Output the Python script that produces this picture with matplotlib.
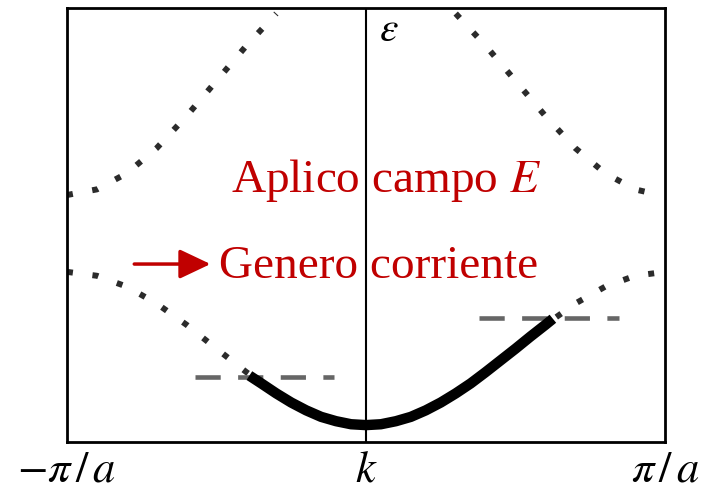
import matplotlib
matplotlib.use("Agg")
import matplotlib.pyplot as plt

plt.rcParams['font.family'] = ['Liberation Serif', 'DejaVu Serif']
plt.rcParams['mathtext.fontset'] = 'stix'

# Lower band (dotted)
k_lower = [-1.0, -0.9, -0.8, -0.7, -0.6, -0.5, -0.4, -0.3, -0.2, -0.1, 0.0,
           0.1, 0.2, 0.3, 0.4, 0.5, 0.6, 0.7, 0.8, 0.9, 1.0]
e_lower = [0.392, 0.383, 0.358, 0.319, 0.270, 0.215, 0.161, 0.112, 0.073, 0.048, 0.039,
           0.048, 0.073, 0.112, 0.161, 0.215, 0.270, 0.319, 0.358, 0.383, 0.392]

# Upper band (dotted), left and right branches
k_up_left = [-1.0, -0.9, -0.8, -0.7, -0.6, -0.5, -0.4, -0.3]
e_up_left = [0.569, 0.582, 0.619, 0.677, 0.751, 0.832, 0.913, 0.987]
k_up_right = [0.3, 0.4, 0.5, 0.6, 0.7, 0.8, 0.9, 0.95]
e_up_right = [0.987, 0.913, 0.832, 0.751, 0.677, 0.619, 0.582, 0.574]

# Occupied states (solid thick)
k_occ = [-0.39, -0.35, -0.3, -0.25, -0.2, -0.15, -0.1, -0.05, 0.0,
         0.05, 0.1, 0.15, 0.2, 0.25, 0.3, 0.35, 0.4, 0.45, 0.5, 0.55, 0.6, 0.625]
e_occ = [0.153, 0.135, 0.112, 0.091, 0.073, 0.058, 0.048, 0.041, 0.039,
         0.041, 0.048, 0.058, 0.073, 0.091, 0.112, 0.135, 0.161, 0.188, 0.215, 0.243, 0.270, 0.284]

# Dashed levels
k_dash_left = [-0.572, -0.107]
e_dash_left = [0.150, 0.150]
k_dash_right = [0.378, 0.846]
e_dash_right = [0.285, 0.285]

tick_pos = [-1, 0, 1]
tick_labels = [r'$-\pi\,/\,a$', r'$k$', r'$\pi\,/\,a$']

fig = plt.figure(figsize=(7.02, 4.95), dpi=100)
ax = fig.add_axes([0.0954, 0.107, 0.8519, 0.877])
ax.set_xlim(-1, 1)
ax.set_ylim(0, 1)

dot_color = '#2b2b2b'
for kk, ee in [(k_lower, e_lower), (k_up_left, e_up_left), (k_up_right, e_up_right)]:
    ax.plot(kk, ee, color=dot_color, lw=4.3, linestyle=(0, (1, 3.3)),
            dash_capstyle='butt', solid_joinstyle='miter')

ax.plot(k_dash_left, e_dash_left, color='#666666', lw=3.3, linestyle=(0, (5.5, 3.8)),
        dash_capstyle='butt')
ax.plot(k_dash_right, e_dash_right, color='#666666', lw=3.3, linestyle=(0, (5.5, 3.8)),
        dash_capstyle='butt')

ax.plot(k_occ, e_occ, color='black', lw=7.5, solid_capstyle='butt',
        solid_joinstyle='round', zorder=5)

ax.axvline(0, color='black', lw=1.5, zorder=4)

red = '#C00000'
ax.text(-0.452, 0.576, r'Aplico campo $E$', color=red, fontsize=34, ha='left', va='baseline')
ax.text(-0.492, 0.378, 'Genero corriente', color=red, fontsize=34, ha='left', va='baseline')
ax.annotate('', xy=(-0.52, 0.410), xytext=(-0.775, 0.410),
            arrowprops=dict(arrowstyle='-|>,head_length=1.9,head_width=0.9',
                            color=red, lw=2.5, shrinkA=0, shrinkB=0))

ax.text(0.045, 0.947, r'$\varepsilon$', fontsize=30, ha='left', va='center', color='black')

ax.set_xticks(tick_pos)
ax.set_xticklabels(tick_labels, fontsize=32)
ax.tick_params(axis='x', length=0, pad=6)
ax.set_yticks([])
for s in ax.spines.values():
    s.set_linewidth(2.0)
    s.set_color('black')

fig.savefig('out.png', dpi=100)
